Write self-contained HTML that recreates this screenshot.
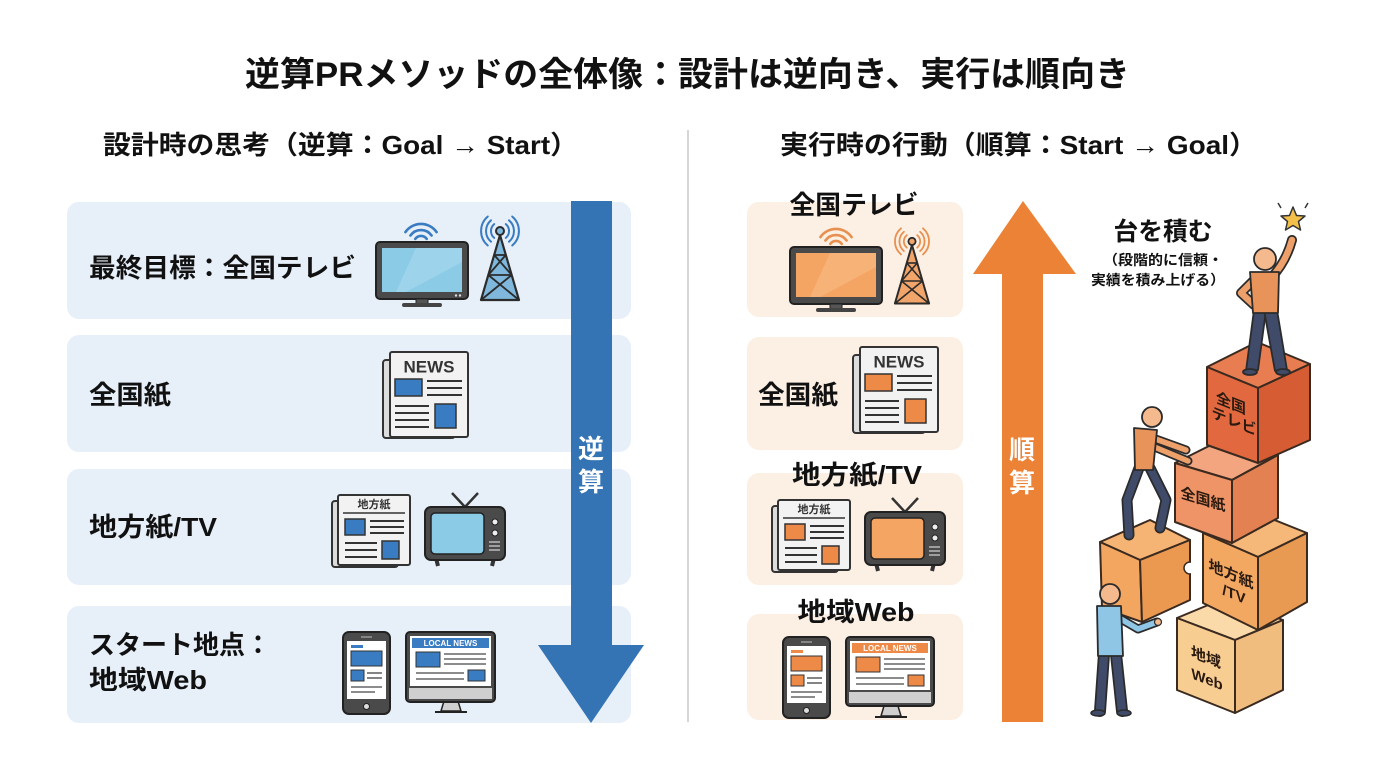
<!DOCTYPE html>
<html><head><meta charset="utf-8"><style>
html,body{margin:0;padding:0;background:#fff;}
svg{display:block;}
text{font-family:"Liberation Sans","Noto Sans CJK JP",sans-serif;font-weight:700;}
</style></head><body>
<svg width="1376" height="768" viewBox="0 0 1376 768" xmlns="http://www.w3.org/2000/svg">
<rect width="1376" height="768" fill="#ffffff"/>

<!-- Title -->
<text x="245" y="75" font-size="34" fill="#111" dominant-baseline="central" textLength="885" lengthAdjust="spacingAndGlyphs">逆算PRメソッドの全体像：設計は逆向き、実行は順向き</text>
<text x="103" y="145" font-size="26" fill="#111" dominant-baseline="central" textLength="475" lengthAdjust="spacingAndGlyphs">設計時の思考（逆算：Goal → Start）</text>
<text x="780" y="145" font-size="26" fill="#111" dominant-baseline="central" textLength="477" lengthAdjust="spacingAndGlyphs">実行時の行動（順算：Start → Goal）</text>

<line x1="688" y1="130" x2="688" y2="722" stroke="#c8c8c8" stroke-width="1.5"/>

<!-- Left boxes -->
<rect x="67" y="202" width="564" height="117" rx="12" fill="#e7f0f9"/>
<rect x="67" y="335" width="564" height="117" rx="12" fill="#e7f0f9"/>
<rect x="67" y="469" width="564" height="116" rx="12" fill="#e7f0f9"/>
<rect x="67" y="606" width="564" height="117" rx="12" fill="#e7f0f9"/>

<!-- Left labels -->
<text x="89" y="268" font-size="26" fill="#111" dominant-baseline="central" textLength="267" lengthAdjust="spacingAndGlyphs">最終目標：全国テレビ</text>
<text x="89" y="395" font-size="26" fill="#111" dominant-baseline="central" textLength="82" lengthAdjust="spacingAndGlyphs">全国紙</text>
<text x="89" y="527" font-size="26" fill="#111" dominant-baseline="central" textLength="128" lengthAdjust="spacingAndGlyphs">地方紙/TV</text>
<text x="89" y="645" font-size="26" fill="#111" dominant-baseline="central" textLength="182" lengthAdjust="spacingAndGlyphs">スタート地点：</text>
<text x="89" y="680" font-size="26" fill="#111" dominant-baseline="central" textLength="118" lengthAdjust="spacingAndGlyphs">地域Web</text>

<!-- Left TV -->
<g transform="translate(376,242)">
  <rect x="0" y="0" width="92" height="57" rx="4" fill="#4a4a4a" stroke="#222" stroke-width="2"/>
  <rect x="6" y="6" width="80" height="44" fill="#8ccbe6"/>
  <polygon points="40,6 86,6 86,20 30,50 20,50" fill="#a9d9ee" opacity="0.6"/>
  <circle cx="80" cy="53.5" r="1.2" fill="#ddd"/><circle cx="84" cy="53.5" r="1.2" fill="#ddd"/>
  <rect x="40" y="57" width="12" height="5" fill="#555" stroke="#222" stroke-width="1"/>
  <rect x="26" y="61" width="40" height="4" rx="2" fill="#444"/>
</g>
<g fill="none" stroke="#3a7cc2" stroke-width="2.6" stroke-linecap="round">
  <path d="M415.3,238.9 A7,7 0 0 1 426.7,238.9"/>
  <path d="M410.4,235.5 A13,13 0 0 1 431.6,235.5"/>
  <path d="M405.4,232.1 A19,19 0 0 1 436.6,232.1"/>
</g>
<!-- Left tower -->
<g transform="translate(500,225)">
  <polygon points="0,10 -19,75 19,75" fill="#7fb8dc" stroke="#2b2b2b" stroke-width="2.2" stroke-linejoin="round"/>
  <g stroke="#2b2b2b" stroke-width="1.8">
    <line x1="-5.8" y1="30" x2="11.7" y2="50"/><line x1="5.8" y1="30" x2="-11.7" y2="50"/>
    <line x1="-11.7" y1="50" x2="11.7" y2="50"/>
    <line x1="-11.7" y1="50" x2="19" y2="75"/><line x1="11.7" y1="50" x2="-19" y2="75"/>
    <line x1="-5.8" y1="30" x2="5.8" y2="30"/>
  </g>
  <circle cx="0" cy="6" r="4" fill="#7fb8dc" stroke="#2b2b2b" stroke-width="2"/>
  <g fill="none" stroke="#3a7cc2" stroke-width="2" stroke-linecap="round">
    <path d="M-5.8,-0.9 A9,9 0 0 0 -5.8,12.9"/><path d="M-9,-4.7 A14,14 0 0 0 -9,16.7"/><path d="M-12.2,-8.5 A19,19 0 0 0 -12.2,20.5"/>
    <path d="M5.8,-0.9 A9,9 0 0 1 5.8,12.9"/><path d="M9,-4.7 A14,14 0 0 1 9,16.7"/><path d="M12.2,-8.5 A19,19 0 0 1 12.2,20.5"/>
  </g>
</g>

<!-- Left NEWS paper -->
<g transform="translate(383,352)">
  <rect x="0" y="8" width="72" height="78" rx="3" fill="#dcdcdc" stroke="#333" stroke-width="2"/>
  <rect x="7" y="0" width="78" height="85" rx="2" fill="#f2f2f2" stroke="#333" stroke-width="2"/>
  <text x="46" y="15" font-size="17" fill="#333" text-anchor="middle" dominant-baseline="central">NEWS</text>
  <rect x="12" y="27" width="27" height="17" fill="#3a7cc2" stroke="#333" stroke-width="1.5"/>
  <g stroke="#333" stroke-width="2"><line x1="44" y1="29" x2="79" y2="29"/><line x1="44" y1="36" x2="79" y2="36"/><line x1="44" y1="43" x2="79" y2="43"/>
  <line x1="12" y1="54" x2="46" y2="54"/><line x1="12" y1="61" x2="46" y2="61"/><line x1="12" y1="68" x2="46" y2="68"/><line x1="12" y1="75" x2="46" y2="75"/></g>
  <rect x="52" y="52" width="21" height="24" fill="#3a7cc2" stroke="#333" stroke-width="1.5"/>
</g>

<!-- Left 地方紙 paper -->
<g transform="translate(332,495)">
  <rect x="0" y="6" width="66" height="66" rx="3" fill="#dcdcdc" stroke="#333" stroke-width="2"/>
  <rect x="6" y="0" width="72" height="70" rx="2" fill="#f2f2f2" stroke="#333" stroke-width="2"/>
  <text x="42" y="10" font-size="11" fill="#333" text-anchor="middle" dominant-baseline="central">地方紙</text>
  <line x1="11" y1="18" x2="73" y2="18" stroke="#333" stroke-width="1.5"/>
  <rect x="13" y="24" width="20" height="16" fill="#3a7cc2" stroke="#333" stroke-width="1.5"/>
  <g stroke="#333" stroke-width="2"><line x1="38" y1="26" x2="72" y2="26"/><line x1="38" y1="32" x2="72" y2="32"/><line x1="38" y1="38" x2="72" y2="38"/>
  <line x1="13" y1="48" x2="45" y2="48"/><line x1="13" y1="55" x2="45" y2="55"/><line x1="13" y1="62" x2="45" y2="62"/></g>
  <rect x="50" y="46" width="17" height="18" fill="#3a7cc2" stroke="#333" stroke-width="1.5"/>
</g>
<!-- Left retro TV -->
<g transform="translate(425,492)">
  <line x1="40" y1="15" x2="27" y2="1" stroke="#333" stroke-width="2.5"/><line x1="40" y1="15" x2="53" y2="1" stroke="#333" stroke-width="2.5"/>
  <line x1="11" y1="66" x2="13" y2="74" stroke="#333" stroke-width="4"/><line x1="69" y1="66" x2="67" y2="74" stroke="#333" stroke-width="4"/>
  <rect x="0" y="15" width="80" height="53" rx="6" fill="#4a4a4a" stroke="#222" stroke-width="2"/>
  <rect x="6" y="21" width="53" height="41" rx="4" fill="#8ccbe6" stroke="#222" stroke-width="1.5"/>
  <circle cx="70" cy="30" r="3" fill="#eee" stroke="#222"/><circle cx="70" cy="41" r="3" fill="#eee" stroke="#222"/>
  <g stroke="#bbb" stroke-width="1.5"><line x1="64" y1="50" x2="75" y2="50"/><line x1="64" y1="54" x2="75" y2="54"/><line x1="64" y1="58" x2="75" y2="58"/></g>
</g>

<!-- Left phone -->
<g transform="translate(343,632)">
  <rect x="0" y="0" width="47" height="82" rx="6" fill="#4a4a4a" stroke="#222" stroke-width="2"/>
  <rect x="4" y="9" width="39" height="58" fill="#fff"/>
  <line x1="18" y1="5" x2="29" y2="5" stroke="#999" stroke-width="1.5"/>
  <circle cx="23.5" cy="74.5" r="3" fill="#ddd" stroke="#222"/>
  <rect x="8" y="13" width="12" height="3" fill="#3a7cc2"/>
  <rect x="8" y="19" width="31" height="15" fill="#3a7cc2" stroke="#333" stroke-width="1"/>
  <rect x="8" y="38" width="13" height="11" fill="#3a7cc2" stroke="#333" stroke-width="1"/>
  <g stroke="#666" stroke-width="1.6"><line x1="24" y1="41" x2="39" y2="41"/><line x1="24" y1="46" x2="39" y2="46"/><line x1="8" y1="55" x2="39" y2="55"/><line x1="8" y1="60" x2="32" y2="60"/></g>
</g>
<!-- Left monitor -->
<g transform="translate(406,632)">
  <polygon points="38,69 52,69 55,79 35,79" fill="#cfcfcf" stroke="#222" stroke-width="1.5"/>
  <line x1="29" y1="80" x2="61" y2="80" stroke="#222" stroke-width="2"/>
  <rect x="0" y="0" width="89" height="70" rx="4" fill="#4a4a4a" stroke="#222" stroke-width="2"/>
  <rect x="3" y="56" width="83" height="11" fill="#cfcfcf"/>
  <rect x="4" y="4" width="81" height="50" fill="#fff"/>
  <rect x="6" y="6" width="77" height="10" fill="#3a7cc2"/>
  <text x="44.5" y="11.5" font-size="8" fill="#fff" text-anchor="middle" dominant-baseline="central">LOCAL NEWS</text>
  <rect x="10" y="20" width="24" height="15" fill="#3a7cc2" stroke="#333" stroke-width="1"/>
  <g stroke="#666" stroke-width="1.6"><line x1="38" y1="22" x2="80" y2="22"/><line x1="38" y1="27" x2="80" y2="27"/><line x1="38" y1="32" x2="80" y2="32"/><line x1="10" y1="41" x2="58" y2="41"/><line x1="10" y1="47" x2="58" y2="47"/></g>
  <rect x="62" y="38" width="17" height="11" fill="#3a7cc2" stroke="#333" stroke-width="1"/>
</g>

<!-- Blue arrow -->
<polygon points="571,201 612,201 612,645 644,645 591,723 538,645 571,645" fill="#3474b5"/>
<text x="591" y="449" font-size="26" fill="#fff" text-anchor="middle" dominant-baseline="central">逆</text>
<text x="591" y="482" font-size="26" fill="#fff" text-anchor="middle" dominant-baseline="central">算</text>

<!-- Right boxes -->
<rect x="747" y="202" width="216" height="115" rx="12" fill="#fcefe3"/>
<rect x="747" y="337" width="216" height="113" rx="12" fill="#fcefe3"/>
<rect x="747" y="473" width="216" height="112" rx="12" fill="#fcefe3"/>
<rect x="747" y="614" width="216" height="106" rx="12" fill="#fcefe3"/>

<text x="854" y="205" font-size="26" fill="#111" text-anchor="middle" dominant-baseline="central" textLength="129" lengthAdjust="spacingAndGlyphs">全国テレビ</text>
<text x="758" y="395" font-size="26" fill="#111" dominant-baseline="central" textLength="80" lengthAdjust="spacingAndGlyphs">全国紙</text>
<text x="857" y="475" font-size="26" fill="#111" text-anchor="middle" dominant-baseline="central" textLength="130" lengthAdjust="spacingAndGlyphs">地方紙/TV</text>
<text x="856" y="612" font-size="26" fill="#111" text-anchor="middle" dominant-baseline="central" textLength="117" lengthAdjust="spacingAndGlyphs">地域Web</text>

<!-- Right TV -->
<g transform="translate(790,247)">
  <rect x="0" y="0" width="92" height="57" rx="4" fill="#4a4a4a" stroke="#222" stroke-width="2"/>
  <rect x="6" y="6" width="80" height="44" fill="#f4a563"/>
  <polygon points="40,6 86,6 86,20 30,50 20,50" fill="#f8bd86" opacity="0.6"/>
  <rect x="40" y="57" width="12" height="5" fill="#555" stroke="#222" stroke-width="1"/>
  <rect x="26" y="61" width="40" height="4" rx="2" fill="#444"/>
</g>
<g fill="none" stroke="#e8904f" stroke-width="2.6" stroke-linecap="round">
  <path d="M830.3,243.9 A7,7 0 0 1 841.7,243.9"/>
  <path d="M825.4,240.5 A13,13 0 0 1 846.6,240.5"/>
  <path d="M820.4,237.1 A19,19 0 0 1 851.6,237.1"/>
</g>
<g transform="translate(912,236) scale(0.9)">
  <polygon points="0,10 -19,75 19,75" fill="#f2a56b" stroke="#2b2b2b" stroke-width="2.2" stroke-linejoin="round"/>
  <g stroke="#2b2b2b" stroke-width="1.8">
    <line x1="-5.8" y1="30" x2="11.7" y2="50"/><line x1="5.8" y1="30" x2="-11.7" y2="50"/>
    <line x1="-11.7" y1="50" x2="11.7" y2="50"/>
    <line x1="-11.7" y1="50" x2="19" y2="75"/><line x1="11.7" y1="50" x2="-19" y2="75"/>
    <line x1="-5.8" y1="30" x2="5.8" y2="30"/>
  </g>
  <circle cx="0" cy="6" r="4" fill="#f2a56b" stroke="#2b2b2b" stroke-width="2"/>
  <g fill="none" stroke="#e8904f" stroke-width="2" stroke-linecap="round">
    <path d="M-5.8,-0.9 A9,9 0 0 0 -5.8,12.9"/><path d="M-9,-4.7 A14,14 0 0 0 -9,16.7"/><path d="M-12.2,-8.5 A19,19 0 0 0 -12.2,20.5"/>
    <path d="M5.8,-0.9 A9,9 0 0 1 5.8,12.9"/><path d="M9,-4.7 A14,14 0 0 1 9,16.7"/><path d="M12.2,-8.5 A19,19 0 0 1 12.2,20.5"/>
  </g>
</g>

<!-- Right NEWS paper -->
<g transform="translate(853,347)">
  <rect x="0" y="8" width="72" height="78" rx="3" fill="#dcdcdc" stroke="#333" stroke-width="2"/>
  <rect x="7" y="0" width="78" height="85" rx="2" fill="#f2f2f2" stroke="#333" stroke-width="2"/>
  <text x="46" y="15" font-size="17" fill="#333" text-anchor="middle" dominant-baseline="central">NEWS</text>
  <rect x="12" y="27" width="27" height="17" fill="#ee8a48" stroke="#333" stroke-width="1.5"/>
  <g stroke="#333" stroke-width="2"><line x1="44" y1="29" x2="79" y2="29"/><line x1="44" y1="36" x2="79" y2="36"/><line x1="44" y1="43" x2="79" y2="43"/>
  <line x1="12" y1="54" x2="46" y2="54"/><line x1="12" y1="61" x2="46" y2="61"/><line x1="12" y1="68" x2="46" y2="68"/><line x1="12" y1="75" x2="46" y2="75"/></g>
  <rect x="52" y="52" width="21" height="24" fill="#ee8a48" stroke="#333" stroke-width="1.5"/>
</g>

<!-- Right 地方紙 paper -->
<g transform="translate(772,500)">
  <rect x="0" y="6" width="66" height="66" rx="3" fill="#dcdcdc" stroke="#333" stroke-width="2"/>
  <rect x="6" y="0" width="72" height="70" rx="2" fill="#f2f2f2" stroke="#333" stroke-width="2"/>
  <text x="42" y="10" font-size="11" fill="#333" text-anchor="middle" dominant-baseline="central">地方紙</text>
  <line x1="11" y1="18" x2="73" y2="18" stroke="#333" stroke-width="1.5"/>
  <rect x="13" y="24" width="20" height="16" fill="#ee8a48" stroke="#333" stroke-width="1.5"/>
  <g stroke="#333" stroke-width="2"><line x1="38" y1="26" x2="72" y2="26"/><line x1="38" y1="32" x2="72" y2="32"/><line x1="38" y1="38" x2="72" y2="38"/>
  <line x1="13" y1="48" x2="45" y2="48"/><line x1="13" y1="55" x2="45" y2="55"/><line x1="13" y1="62" x2="45" y2="62"/></g>
  <rect x="50" y="46" width="17" height="18" fill="#ee8a48" stroke="#333" stroke-width="1.5"/>
</g>
<!-- Right retro TV -->
<g transform="translate(865,497)">
  <line x1="40" y1="15" x2="27" y2="1" stroke="#333" stroke-width="2.5"/><line x1="40" y1="15" x2="53" y2="1" stroke="#333" stroke-width="2.5"/>
  <line x1="11" y1="66" x2="13" y2="74" stroke="#333" stroke-width="4"/><line x1="69" y1="66" x2="67" y2="74" stroke="#333" stroke-width="4"/>
  <rect x="0" y="15" width="80" height="53" rx="6" fill="#4a4a4a" stroke="#222" stroke-width="2"/>
  <rect x="6" y="21" width="53" height="41" rx="4" fill="#f4a563" stroke="#222" stroke-width="1.5"/>
  <circle cx="70" cy="30" r="3" fill="#eee" stroke="#222"/><circle cx="70" cy="41" r="3" fill="#eee" stroke="#222"/>
  <g stroke="#bbb" stroke-width="1.5"><line x1="64" y1="50" x2="75" y2="50"/><line x1="64" y1="54" x2="75" y2="54"/><line x1="64" y1="58" x2="75" y2="58"/></g>
</g>

<!-- Right phone -->
<g transform="translate(783,637)">
  <rect x="0" y="0" width="47" height="81" rx="6" fill="#4a4a4a" stroke="#222" stroke-width="2"/>
  <rect x="4" y="9" width="39" height="57" fill="#fff"/>
  <line x1="18" y1="5" x2="29" y2="5" stroke="#999" stroke-width="1.5"/>
  <circle cx="23.5" cy="73.5" r="3" fill="#ddd" stroke="#222"/>
  <rect x="8" y="13" width="12" height="3" fill="#ee8a48"/>
  <rect x="8" y="19" width="31" height="15" fill="#ee8a48" stroke="#333" stroke-width="1"/>
  <rect x="8" y="38" width="13" height="11" fill="#ee8a48" stroke="#333" stroke-width="1"/>
  <g stroke="#666" stroke-width="1.6"><line x1="24" y1="41" x2="39" y2="41"/><line x1="24" y1="46" x2="39" y2="46"/><line x1="8" y1="55" x2="39" y2="55"/><line x1="8" y1="60" x2="32" y2="60"/></g>
</g>
<!-- Right monitor -->
<g transform="translate(846,637)">
  <polygon points="38,69 52,69 55,79 35,79" fill="#cfcfcf" stroke="#222" stroke-width="1.5"/>
  <line x1="29" y1="80" x2="61" y2="80" stroke="#222" stroke-width="2"/>
  <rect x="0" y="0" width="88" height="69" rx="4" fill="#4a4a4a" stroke="#222" stroke-width="2"/>
  <rect x="3" y="55" width="82" height="11" fill="#cfcfcf"/>
  <rect x="4" y="4" width="80" height="49" fill="#fff"/>
  <rect x="6" y="6" width="76" height="10" fill="#ee8a48"/>
  <text x="44" y="11.5" font-size="8" fill="#fff" text-anchor="middle" dominant-baseline="central">LOCAL NEWS</text>
  <rect x="10" y="20" width="24" height="15" fill="#ee8a48" stroke="#333" stroke-width="1"/>
  <g stroke="#666" stroke-width="1.6"><line x1="38" y1="22" x2="79" y2="22"/><line x1="38" y1="27" x2="79" y2="27"/><line x1="38" y1="32" x2="79" y2="32"/><line x1="10" y1="41" x2="58" y2="41"/><line x1="10" y1="47" x2="58" y2="47"/></g>
  <rect x="62" y="38" width="16" height="11" fill="#ee8a48" stroke="#333" stroke-width="1"/>
</g>

<!-- Orange arrow -->
<polygon points="1023,201 1076,274 1043,274 1043,722 1002,722 1002,274 973,274" fill="#ec8236"/>
<text x="1022" y="450" font-size="26" fill="#fff" text-anchor="middle" dominant-baseline="central">順</text>
<text x="1022" y="483" font-size="26" fill="#fff" text-anchor="middle" dominant-baseline="central">算</text>

<!-- Stacking labels -->
<text x="1163" y="232" font-size="25" fill="#111" text-anchor="middle" dominant-baseline="central" textLength="99" lengthAdjust="spacingAndGlyphs">台を積む</text>
<text x="1163" y="260" font-size="14" fill="#111" text-anchor="middle" dominant-baseline="central" textLength="120" lengthAdjust="spacingAndGlyphs">（段階的に信頼・</text>
<text x="1158" y="280" font-size="14" fill="#111" text-anchor="middle" dominant-baseline="central" textLength="134" lengthAdjust="spacingAndGlyphs">実績を積み上げる）</text>

<!-- Cubes -->
<g stroke="#3a2a20" stroke-width="2" stroke-linejoin="round">
  <!-- 地域Web -->
  <polygon points="1177,618 1225,598 1283,620 1235,640" fill="#fbdaa9"/>
  <polygon points="1177,618 1235,640 1235,713 1177,690" fill="#f8cd92"/>
  <polygon points="1235,640 1283,620 1283,690 1235,713" fill="#f1bd7f"/>
  <!-- 地方紙/TV -->
  <polygon points="1203,533 1252,511 1307,533 1258,557" fill="#f6b878"/>
  <polygon points="1203,533 1258,557 1258,630 1203,603" fill="#f3a862"/>
  <polygon points="1258,557 1307,533 1307,602 1258,630" fill="#e99a52"/>
  <!-- 全国紙 -->
  <polygon points="1175,463 1221,440 1278,455 1232,480" fill="#f3a57f"/>
  <polygon points="1175,463 1232,480 1232,543 1175,522" fill="#ee9466"/>
  <polygon points="1232,480 1278,455 1278,518 1232,543" fill="#e38152"/>
  <!-- 全国テレビ -->
  <polygon points="1207,367 1257,342 1310,364 1258,388" fill="#e97d52"/>
  <polygon points="1207,367 1258,388 1258,463 1207,445" fill="#e2693f"/>
  <polygon points="1258,388 1310,364 1310,440 1258,463" fill="#d65c34"/>
  <!-- left held cube -->
  <polygon points="1100,542 1150,520 1190,540 1140,560" fill="#f6b474"/>
  <polygon points="1100,542 1140,560 1142,622 1102,608" fill="#f3a660"/>
  <polygon points="1140,560 1190,540 1190,600 1142,622" fill="#eb9850"/>
</g>
<circle cx="1190" cy="568" r="6" fill="#fff" stroke="#3a2a20" stroke-width="1.5"/>
<rect x="1191" y="560" width="6" height="16" fill="#fff"/>

<g fill="#2a1a10" font-size="15" text-anchor="middle" dominant-baseline="central">
  <text transform="translate(1231,404) skewY(22)">全国</text>
  <text transform="translate(1234,422) skewY(22)">テレビ</text>
  <text transform="translate(1203,500) skewY(17)">全国紙</text>
  <text transform="translate(1231,575) skewY(23)">地方紙</text>
  <text transform="translate(1234,595) skewY(23)">/TV</text>
  <text transform="translate(1206,658) skewY(21)">地域</text>
  <text transform="translate(1207,680) skewY(21)">Web</text>
</g>

<!-- Star -->
<polygon points="1293,207 1296.5,215.5 1305,216 1298.5,221.5 1300.5,230 1293,225.5 1285.5,230 1287.5,221.5 1281,216 1289.5,215.5" fill="#f5c04a" stroke="#333" stroke-width="1.5" stroke-linejoin="round"/>
<line x1="1278" y1="203" x2="1281" y2="208" stroke="#333" stroke-width="1.5"/>
<line x1="1308" y1="203" x2="1305" y2="208" stroke="#333" stroke-width="1.5"/>

<!-- Top person -->
<g stroke="#2b2b2b" stroke-width="1.8" stroke-linejoin="round">
  <polygon points="1254,310 1266,310 1258,370 1246,371" fill="#3f4b68"/>
  <polygon points="1264,310 1277,310 1287,370 1275,371" fill="#3f4b68"/>
  <ellipse cx="1250" cy="372" rx="7" ry="3" fill="#3f4b68"/>
  <ellipse cx="1283" cy="372" rx="7" ry="3" fill="#3f4b68"/>
</g>
<g fill="none" stroke-linecap="round" stroke-linejoin="round">
  <path d="M1271,278 Q1286,262 1292,240" stroke="#2b2b2b" stroke-width="10"/>
  <path d="M1271,278 Q1286,262 1292,240" stroke="#eea06a" stroke-width="6.5"/>
  <path d="M1255,279 L1241,293 L1254,305" stroke="#2b2b2b" stroke-width="10"/>
  <path d="M1255,279 L1241,293 L1254,305" stroke="#eea06a" stroke-width="6.5"/>
</g>
<polygon points="1250,272 1279,272 1278,313 1253,313" fill="#e8935a" stroke="#2b2b2b" stroke-width="1.8" stroke-linejoin="round"/>
<circle cx="1265" cy="259" r="11" fill="#f4b98c" stroke="#2b2b2b" stroke-width="1.8"/>

<!-- Climbing person -->
<g fill="none" stroke-linecap="round" stroke-linejoin="round">
  <path d="M1139,468 L1127,500 L1129,535" stroke="#2b2b2b" stroke-width="11"/>
  <path d="M1139,468 L1127,500 L1129,535" stroke="#3f4b68" stroke-width="7.5"/>
  <path d="M1150,468 L1166,500 L1160,528" stroke="#2b2b2b" stroke-width="11"/>
  <path d="M1150,468 L1166,500 L1160,528" stroke="#3f4b68" stroke-width="7.5"/>
  <path d="M1150,437 L1186,450" stroke="#2b2b2b" stroke-width="9"/>
  <path d="M1150,437 L1186,450" stroke="#eea06a" stroke-width="5.5"/>
  <path d="M1152,446 L1188,461" stroke="#2b2b2b" stroke-width="9"/>
  <path d="M1152,446 L1188,461" stroke="#eea06a" stroke-width="5.5"/>
</g>
<polygon points="1134,428 1157,430 1153,470 1135,470" fill="#e8935a" stroke="#2b2b2b" stroke-width="1.8" stroke-linejoin="round"/>
<circle cx="1152" cy="417" r="10" fill="#f4b98c" stroke="#2b2b2b" stroke-width="1.8"/>

<!-- Bottom person -->
<g fill="none" stroke-linecap="round" stroke-linejoin="round">
  <path d="M1104,654 L1100,711" stroke="#2b2b2b" stroke-width="12"/>
  <path d="M1104,654 L1100,711" stroke="#3f4b68" stroke-width="8.5"/>
  <path d="M1116,654 L1122,711" stroke="#2b2b2b" stroke-width="12"/>
  <path d="M1116,654 L1122,711" stroke="#3f4b68" stroke-width="8.5"/>
  <path d="M1114,615 L1138,629 L1157,622" stroke="#2b2b2b" stroke-width="9"/>
  <path d="M1114,615 L1138,629 L1157,622" stroke="#8fc6e6" stroke-width="5.5"/>
</g>
<ellipse cx="1098" cy="713" rx="7" ry="3" fill="#3f4b68" stroke="#2b2b2b" stroke-width="1.5"/>
<ellipse cx="1124" cy="713" rx="7" ry="3" fill="#3f4b68" stroke="#2b2b2b" stroke-width="1.5"/>
<circle cx="1158" cy="622" r="3.5" fill="#f4b98c" stroke="#2b2b2b" stroke-width="1.2"/>
<polygon points="1097,606 1121,606 1123,656 1098,656" fill="#8fc6e6" stroke="#2b2b2b" stroke-width="1.8" stroke-linejoin="round"/>
<circle cx="1110" cy="594" r="10" fill="#f4b98c" stroke="#2b2b2b" stroke-width="1.8"/>

</svg>
</body></html>
